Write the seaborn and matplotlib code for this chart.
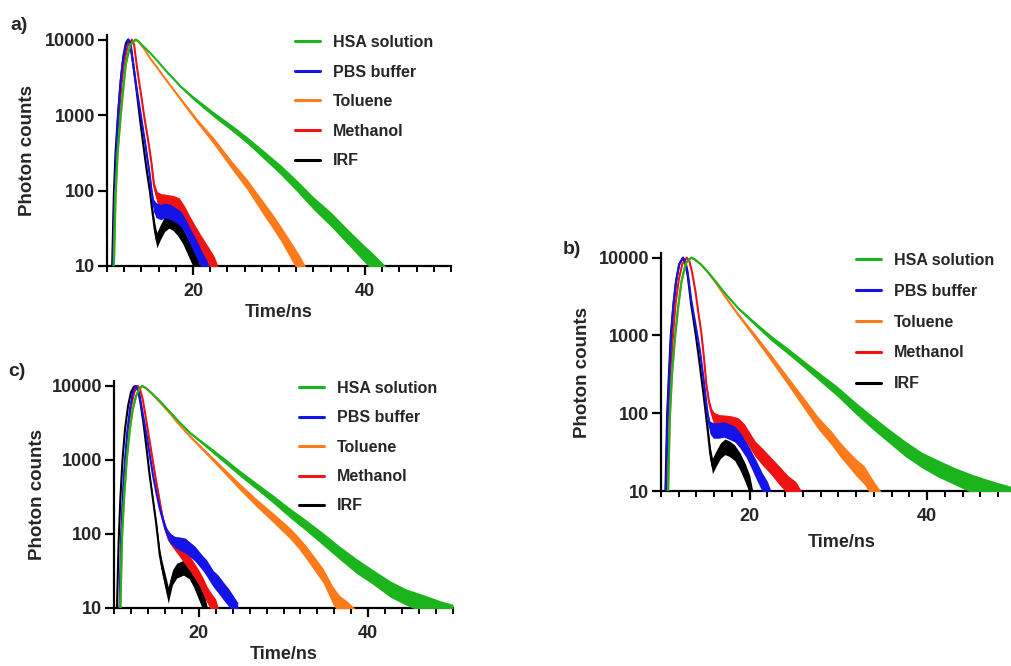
import numpy as np
import pandas as pd
import matplotlib
matplotlib.use("Agg")
import matplotlib.pyplot as plt
from matplotlib.lines import Line2D
from matplotlib.ticker import FixedLocator, MultipleLocator, NullLocator
import seaborn as sns

# ---------------- data (time in ns, photon counts, noise half-width in decades) -------------
SERIES_NAMES = ["HSA solution", "PBS buffer", "Toluene", "Methanol", "IRF"]
Y_TICKS = [10, 100, 1000, 10000]
Y_TICK_LABELS = ["10", "100", "1000", "10000"]
X_TICKS = [20, 40]
X_TICK_LABELS = ["20", "40"]

# panel a
A_IRF_T = [10.5, 10.6, 10.8, 11.0, 11.3, 11.6, 11.9, 12.2, 12.45, 12.7, 13.0, 13.4, 13.8, 14.2, 14.6, 15.0, 15.3, 15.6, 15.8, 16.2, 16.7, 17.2, 17.7, 18.2, 18.8, 19.4, 20.0, 20.5, 20.9]
A_IRF_Y = [5, 10, 90, 330, 1100, 2900, 6000, 9000, 10000, 8600, 5200, 2300, 950, 420, 190, 95, 50, 28, 22, 28, 36, 40, 37, 32, 25, 18, 13, 10, 7]
A_IRF_S = [0] * 12 + [0.01, 0.02, 0.03, 0.05, 0.07, 0.09, 0.1, 0.1, 0.1, 0.1, 0.1, 0.1, 0.1, 0.11, 0.12, 0.12, 0.12]

A_PBS_T = [10.6, 10.7, 10.92, 11.1, 11.3, 11.55, 11.8, 12.15, 12.5, 12.75, 13.04, 13.3, 13.6, 13.9, 14.2, 14.5, 14.77, 15.0, 15.17, 15.4, 15.7, 16.2, 16.8, 17.4, 18.0, 18.6, 19.2, 19.8, 20.5, 21.0, 21.5, 22.0]
A_PBS_Y = [5, 10, 100, 350, 1000, 2500, 4800, 8000, 10000, 8700, 4800, 2900, 1740, 1050, 630, 380, 230, 150, 100, 64, 55, 52, 54, 52, 47, 42, 32, 23, 16, 12, 9.5, 7]
A_PBS_S = [0] * 13 + [0.01, 0.015, 0.02, 0.03, 0.04, 0.05, 0.08, 0.1, 0.1, 0.1, 0.1, 0.1, 0.1, 0.1, 0.11, 0.12, 0.12, 0.12, 0.12]

A_MEOH_T = [10.65, 10.75, 10.95, 11.15, 11.4, 11.7, 12.0, 12.4, 12.9, 13.15, 13.43, 13.7, 14.0, 14.3, 14.59, 14.9, 15.17, 15.47, 15.85, 16.3, 17.0, 17.7, 18.4, 19.0, 19.6, 20.2, 20.8, 21.4, 21.9, 22.5, 23.0]
A_MEOH_Y = [5, 10, 100, 350, 1000, 2600, 5000, 8200, 10000, 8600, 4800, 2900, 1740, 1000, 630, 380, 230, 115, 80, 74, 72, 70, 65, 50, 37, 28, 21, 16, 13, 10, 7]
A_MEOH_S = [0] * 12 + [0.01, 0.01, 0.015, 0.02, 0.03, 0.05, 0.08, 0.09, 0.09, 0.09, 0.09, 0.1, 0.1, 0.1, 0.11, 0.12, 0.12, 0.12, 0.12]

A_HSA_T = [10.7, 10.8, 11.0, 11.25, 11.6, 11.9, 12.2, 12.7, 13.3, 13.7, 14.2, 15.0, 16.0, 17.0, 18.6, 20.0, 22.5, 24.4, 26.3, 28.2, 30.2, 32.1, 34.0, 36.0, 37.9, 39.8, 41.0, 43.0]
A_HSA_Y = [5, 10, 90, 330, 1000, 2300, 4800, 8500, 10000, 9400, 8200, 6700, 5000, 3700, 2370, 1700, 1000, 690, 465, 300, 188, 115, 68, 42, 25, 15, 11, 6]
A_HSA_S = [0] * 12 + [0.005, 0.008, 0.015, 0.025, 0.035, 0.04, 0.045, 0.055, 0.065, 0.075, 0.085, 0.095, 0.1, 0.11, 0.12, 0.15]

A_TOL_T = [10.7, 10.8, 11.0, 11.25, 11.6, 11.9, 12.2, 12.7, 13.4, 13.8, 14.3, 15.0, 16.0, 17.0, 18.6, 20.5, 22.5, 24.4, 26.3, 27.3, 28.2, 29.2, 30.2, 31.0, 31.7, 32.5, 33.4]
A_TOL_Y = [5, 10, 90, 330, 1000, 2300, 4800, 8500, 10000, 9000, 7600, 5700, 4000, 2800, 1600, 830, 440, 225, 120, 82, 58, 40, 27, 19, 14, 10, 6]
A_TOL_S = [0] * 12 + [0.005, 0.01, 0.02, 0.03, 0.045, 0.055, 0.07, 0.08, 0.09, 0.095, 0.1, 0.11, 0.12, 0.12, 0.15]

# panel b
B_IRF_T = [10.4, 10.5, 10.7, 10.9, 11.1, 11.4, 11.7, 12.05, 12.45, 12.7, 13.0, 13.4, 13.9, 14.3, 14.7, 15.0, 15.3, 15.55, 15.8, 16.2, 16.7, 17.2, 17.7, 18.3, 18.9, 19.5, 20.0, 20.4]
B_IRF_Y = [5, 10, 100, 330, 1000, 2500, 5000, 8200, 10000, 8800, 6000, 2500, 1050, 480, 210, 110, 55, 30, 21, 26, 33, 37, 35, 31, 24, 17, 12, 7]
B_IRF_S = [0] * 12 + [0.01, 0.02, 0.03, 0.05, 0.07, 0.09, 0.1, 0.1, 0.1, 0.1, 0.1, 0.1, 0.11, 0.12, 0.12, 0.12]

B_PBS_T = [10.45, 10.55, 10.75, 10.95, 11.15, 11.4, 11.7, 12.05, 12.5, 12.75, 13.0, 13.4, 13.9, 14.37, 14.65, 14.93, 15.15, 15.3, 15.5, 15.9, 16.5, 17.1, 17.7, 18.3, 18.9, 19.6, 20.2, 20.8, 21.4, 22.0, 22.5]
B_PBS_Y = [5, 10, 100, 330, 1000, 2500, 5000, 8200, 10000, 9000, 6600, 2900, 1350, 650, 370, 200, 120, 89, 66, 60, 60, 62, 58, 54, 45, 34, 25, 18, 13, 10, 7]
B_PBS_S = [0] * 12 + [0.01, 0.015, 0.02, 0.03, 0.04, 0.06, 0.08, 0.1, 0.1, 0.1, 0.1, 0.1, 0.1, 0.1, 0.11, 0.12, 0.12, 0.12, 0.12]

B_MEOH_T = [10.6, 10.7, 10.9, 11.1, 11.35, 11.65, 12.0, 12.4, 12.9, 13.2, 13.5, 13.9, 14.2, 14.55, 14.85, 15.1, 15.4, 15.7, 16.0, 16.6, 17.3, 18.0, 18.7, 19.4, 20.0, 20.6, 21.5, 22.4, 23.3, 24.3, 25.2, 26.0]
B_MEOH_Y = [5, 10, 90, 320, 1000, 2600, 5200, 8300, 10000, 9000, 6500, 3600, 2000, 1070, 500, 240, 140, 100, 85, 78, 77, 75, 71, 58, 45, 35, 27, 21, 16, 12, 10, 7]
B_MEOH_S = [0] * 12 + [0.01, 0.01, 0.015, 0.025, 0.04, 0.06, 0.08, 0.09, 0.09, 0.09, 0.09, 0.1, 0.1, 0.1, 0.11, 0.11, 0.12, 0.12, 0.12, 0.12]

B_HSA_T = [10.7, 10.8, 11.0, 11.25, 11.6, 11.95, 12.3, 12.8, 13.4, 13.8, 14.5, 15.3, 16.2, 17.2, 18.7, 20.5, 22.4, 24.3, 26.2, 28.0, 29.9, 31.8, 33.7, 35.6, 37.5, 39.4, 41.2, 43.1, 45.0, 47.0, 49.0, 50.5]
B_HSA_Y = [5, 10, 90, 330, 1000, 2400, 4900, 8500, 10000, 9500, 8200, 6500, 4900, 3500, 2240, 1450, 930, 630, 420, 285, 190, 120, 78, 52, 35, 25, 19.5, 15.5, 12.5, 10.5, 9, 8]
B_HSA_S = [0] * 12 + [0.005, 0.008, 0.015, 0.025, 0.035, 0.04, 0.045, 0.055, 0.065, 0.075, 0.085, 0.09, 0.1, 0.1, 0.11, 0.11, 0.12, 0.12, 0.12, 0.12]

B_TOL_T = [10.7, 10.8, 11.0, 11.25, 11.6, 11.95, 12.3, 12.8, 13.4, 13.8, 14.5, 15.3, 16.2, 17.2, 18.7, 20.5, 22.4, 24.3, 26.2, 27.7, 29.2, 30.2, 31.1, 32.0, 32.9, 34.0, 35.2]
B_TOL_Y = [5, 10, 90, 330, 1000, 2400, 4900, 8500, 10000, 9500, 8200, 6500, 4700, 3200, 1850, 1000, 515, 260, 130, 75, 48, 34, 26, 20, 16, 10, 6]
B_TOL_S = [0] * 12 + [0.005, 0.01, 0.02, 0.035, 0.045, 0.055, 0.07, 0.08, 0.09, 0.095, 0.1, 0.11, 0.12, 0.12, 0.15]

# panel c
C_IRF_T = [10.25, 10.35, 10.55, 10.75, 11.0, 11.3, 11.65, 12.0, 12.35, 12.6, 12.85, 13.1, 13.5, 13.85, 14.2, 14.6, 15.0, 15.4, 15.7, 16.0, 16.4, 16.9, 17.4, 18.2, 18.9, 19.4, 19.8, 20.3, 20.7, 21.1]
C_IRF_Y = [5, 10, 80, 300, 1000, 2600, 5300, 8200, 9800, 10000, 8800, 6200, 3000, 1400, 630, 290, 133, 52, 34, 24, 15, 26, 32, 35, 31, 24, 19, 14, 11, 7]
C_IRF_S = [0] * 14 + [0.015, 0.025, 0.04, 0.07, 0.09, 0.1, 0.11, 0.1, 0.1, 0.1, 0.1, 0.1, 0.11, 0.12, 0.12, 0.12]

C_PBS_T = [10.55, 10.65, 10.85, 11.05, 11.3, 11.6, 11.9, 12.2, 12.5, 12.75, 13.0, 13.4, 13.8, 14.2, 14.6, 15.0, 15.4, 15.8, 16.2, 16.6, 17.2, 17.8, 18.4, 18.94, 19.5, 20.0, 20.5, 20.9, 21.7, 22.3, 22.9, 23.5, 24.1, 24.6]
C_PBS_Y = [5, 10, 100, 350, 1000, 2600, 5000, 8000, 10000, 9200, 7500, 4200, 2300, 1200, 620, 360, 220, 150, 107, 88, 78, 74, 70, 62, 55, 47, 40, 35, 25, 21, 17, 14, 11, 9]
C_PBS_S = [0] * 12 + [0.005, 0.01, 0.015, 0.025, 0.035, 0.045, 0.055, 0.065, 0.075, 0.09, 0.1, 0.1, 0.1, 0.1, 0.1, 0.11, 0.11, 0.12, 0.12, 0.12, 0.12, 0.12]

C_MEOH_T = [10.6, 10.7, 10.9, 11.1, 11.35, 11.65, 12.0, 12.4, 12.8, 13.05, 13.4, 13.8, 14.2, 14.6, 14.9, 15.2, 15.6, 16.0, 16.3, 16.8, 17.5, 18.2, 18.94, 19.5, 20.0, 20.5, 21.0, 21.5, 22.0, 22.4]
C_MEOH_Y = [5, 10, 100, 340, 1000, 2600, 5200, 8300, 10000, 9300, 6500, 3500, 1800, 950, 580, 370, 200, 120, 98, 82, 66, 52, 40, 32, 26, 20, 15, 12, 10, 7]
C_MEOH_S = [0] * 12 + [0.01, 0.01, 0.015, 0.025, 0.035, 0.05, 0.07, 0.08, 0.09, 0.1, 0.1, 0.1, 0.1, 0.11, 0.11, 0.12, 0.12, 0.12]

C_HSA_T = [10.6, 10.75, 10.95, 11.2, 11.5, 11.85, 12.2, 12.6, 13.0, 13.35, 13.8, 14.5, 15.5, 16.5, 17.5, 18.94, 20.9, 22.87, 24.8, 26.8, 28.8, 30.7, 32.7, 34.7, 36.6, 38.6, 40.6, 42.6, 44.5, 46.5, 48.5, 50.0]
C_HSA_Y = [5, 10, 90, 320, 1000, 2500, 4700, 7300, 9200, 10000, 9300, 7900, 6100, 4600, 3450, 2340, 1550, 1020, 670, 445, 295, 195, 130, 85, 56, 37, 26, 18, 14, 11.5, 9.5, 8.5]
C_HSA_S = [0] * 12 + [0.003, 0.005, 0.008, 0.015, 0.025, 0.035, 0.04, 0.045, 0.055, 0.065, 0.075, 0.085, 0.09, 0.1, 0.1, 0.11, 0.11, 0.12, 0.12, 0.12]

C_TOL_T = [10.6, 10.75, 10.95, 11.2, 11.5, 11.85, 12.2, 12.6, 13.0, 13.35, 13.8, 14.5, 15.5, 16.5, 17.5, 18.94, 20.9, 22.87, 24.8, 26.8, 28.8, 30.7, 31.7, 32.7, 33.7, 34.7, 35.8, 36.6, 37.5, 38.5]
C_TOL_Y = [5, 10, 90, 320, 1000, 2500, 4700, 7300, 9200, 10000, 9300, 7800, 5900, 4400, 3200, 2100, 1250, 740, 440, 265, 165, 104, 78, 56, 39, 27, 15, 11, 9, 7]
C_TOL_S = [0] * 12 + [0.003, 0.005, 0.008, 0.015, 0.025, 0.035, 0.045, 0.055, 0.065, 0.075, 0.08, 0.09, 0.095, 0.1, 0.12, 0.13, 0.14, 0.14]

# ---------------- style -------------
COLORS = {"HSA solution": "#1cb41c", "PBS buffer": "#1414e8", "Toluene": "#ff7a1a",
          "Methanol": "#ee1212", "IRF": "#000000"}
DRAW_ORDER = ["IRF", "Methanol", "PBS buffer", "Toluene", "HSA solution"]

sns.set_style("ticks")
plt.rcParams["font.family"] = ["Liberation Sans", "DejaVu Sans"]
plt.rcParams["font.weight"] = "bold"

W, H = 1012, 666
fig = plt.figure(figsize=(W / 100, H / 100), dpi=100)
fig.patch.set_facecolor("white")


def px_rect(left, right, top, bottom):
    return [left / W, 1 - bottom / H, (right - left) / W, (bottom - top) / H]


def make_df(t, y, s):
    df = pd.DataFrame({"t": t, "y": y, "s": s})
    df["lo"] = df["y"] / 10 ** df["s"]
    df["hi"] = df["y"] * 10 ** df["s"]
    return df


def draw_panel(rect, data, legend_xy, labelspacing, ylab_x, xlab_xy, letter, letter_xy):
    ax = fig.add_axes(rect)
    for z, name in enumerate(DRAW_ORDER):
        df = make_df(*data[name])
        c = COLORS[name]
        ax.fill_between(df["t"], df["lo"], df["hi"], color=c, lw=0, zorder=2 + z)
        sns.lineplot(data=df, x="t", y="y", ax=ax, color=c, lw=1.5, zorder=2 + z,
                     estimator=None, sort=False, legend=False)
    ax.set_yscale("log")
    ax.set_xlim(10, 50)
    ax.set_ylim(10, 11500)
    ax.yaxis.set_major_locator(FixedLocator(Y_TICKS))
    ax.set_yticklabels(Y_TICK_LABELS)
    ax.yaxis.set_minor_locator(NullLocator())
    ax.xaxis.set_major_locator(FixedLocator(X_TICKS))
    ax.set_xticklabels(X_TICK_LABELS)
    ax.xaxis.set_minor_locator(MultipleLocator(2))
    for sp in ["top", "right"]:
        ax.spines[sp].set_visible(False)
    for sp in ["left", "bottom"]:
        ax.spines[sp].set_linewidth(1.6)
        ax.spines[sp].set_color("black")
    ax.tick_params(which="major", direction="out", length=6.5, width=1.6, color="black",
                   labelsize=13, pad=2)
    ax.tick_params(axis="x", which="major", pad=6)
    ax.tick_params(which="minor", direction="out", length=4.5, width=1.4, color="black")
    for lab in ax.get_xticklabels() + ax.get_yticklabels():
        lab.set_fontweight("bold")
    ax.set_ylabel("Photon counts", fontsize=13.5, fontweight="bold", va="center")
    ax.yaxis.set_label_coords(ylab_x, 0.5)
    ax.set_xlabel("Time/ns", fontsize=13, fontweight="bold", va="center")
    ax.xaxis.set_label_coords(*xlab_xy)
    ax.set_facecolor("none")

    handles = [Line2D([0], [0], color=COLORS[n], lw=2.2) for n in SERIES_NAMES]
    ax.legend(handles, SERIES_NAMES, loc="upper left",
              bbox_to_anchor=(legend_xy[0] / W, 1 - legend_xy[1] / H),
              bbox_transform=fig.transFigure, frameon=False,
              prop={"weight": "bold", "size": 11.5},
              handlelength=1.55, handletextpad=0.8, labelspacing=labelspacing,
              borderpad=0, borderaxespad=0)
    fig.text(letter_xy[0] / W, 1 - letter_xy[1] / H, letter, fontsize=14,
             fontweight="bold", ha="center", va="center")
    return ax


data_a = {"IRF": (A_IRF_T, A_IRF_Y, A_IRF_S), "PBS buffer": (A_PBS_T, A_PBS_Y, A_PBS_S),
          "Methanol": (A_MEOH_T, A_MEOH_Y, A_MEOH_S), "HSA solution": (A_HSA_T, A_HSA_Y, A_HSA_S),
          "Toluene": (A_TOL_T, A_TOL_Y, A_TOL_S)}
data_b = {"IRF": (B_IRF_T, B_IRF_Y, B_IRF_S), "PBS buffer": (B_PBS_T, B_PBS_Y, B_PBS_S),
          "Methanol": (B_MEOH_T, B_MEOH_Y, B_MEOH_S), "HSA solution": (B_HSA_T, B_HSA_Y, B_HSA_S),
          "Toluene": (B_TOL_T, B_TOL_Y, B_TOL_S)}
data_c = {"IRF": (C_IRF_T, C_IRF_Y, C_IRF_S), "PBS buffer": (C_PBS_T, C_PBS_Y, C_PBS_S),
          "Methanol": (C_MEOH_T, C_MEOH_Y, C_MEOH_S), "HSA solution": (C_HSA_T, C_HSA_Y, C_HSA_S),
          "Toluene": (C_TOL_T, C_TOL_Y, C_TOL_S)}

draw_panel(px_rect(107, 451, 35, 266), data_a, (295, 35), 0.91, -0.23, (0.5, -0.203), "a)", (19, 25))
draw_panel(px_rect(661, 1016, 253, 491), data_b, (856, 253), 0.99, -0.22, (0.51, -0.218), "b)", (572, 250))
draw_panel(px_rect(114, 453, 381.5, 608), data_c, (299, 381), 0.9, -0.227, (0.5, -0.207), "c)", (17, 372))

fig.savefig("out.png", dpi=100, facecolor="white")
